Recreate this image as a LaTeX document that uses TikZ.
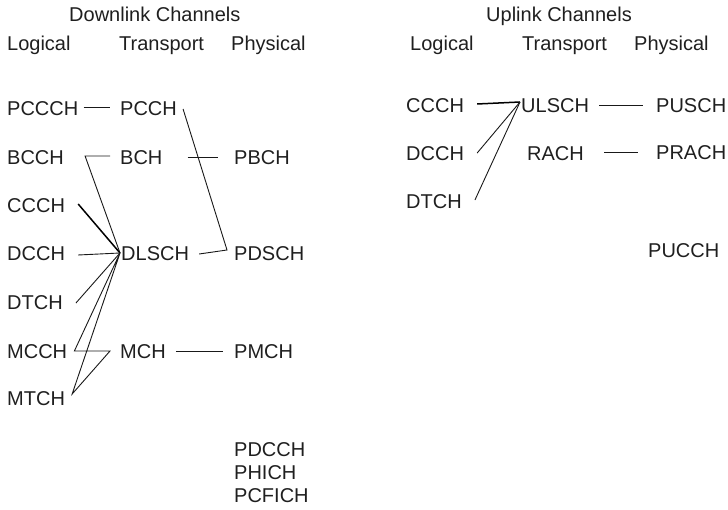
\documentclass[tikz,border=0pt]{standalone}
\usepackage{fontspec}
\setmainfont{Liberation Sans}
\usetikzlibrary{calc}
\begin{document}
\begin{tikzpicture}[x=1pt,y=-1pt,
  ch/.style={inner sep=0pt, anchor=west, text height=14.3pt, text depth=0pt,
    font=\fontsize{20}{24}\selectfont, text=black!88},
  link/.style={draw=black!90, line width=0.9pt},
  thick link/.style={draw=black, line width=1.5pt}]
\useasboundingbox (0,0) rectangle (728,510);
% headers
\node[ch] (dlh) at (69,14.2) {Downlink Channels};
\node[ch] (dll) at (7,43.5) {Logical};
\node[ch] (dlt) at (119,43.5) {Transport};
\node[ch] (dlp) at (231,43.5) {Physical};
\node[ch] (ulh) at (486,14.2) {Uplink Channels};
\node[ch] (ull) at (410,43.5) {Logical};
\node[ch] (ult) at (522,43.5) {Transport};
\node[ch] (ulp) at (634,43.5) {Physical};
% downlink nodes
\node[ch] (PCCCH) at (7,108) {PCCCH};
\node[ch] (PCCH) at (120,108) {PCCH};
\node[ch] (BCCH) at (7,157) {BCCH};
\node[ch] (BCH) at (120,157) {BCH};
\node[ch] (PBCH) at (234,157) {PBCH};
\node[ch] (CCCH) at (7,205) {CCCH};
\node[ch] (DCCH) at (7,253) {DCCH};
\node[ch] (DLSCH) at (121,253) {DLSCH};
\node[ch] (PDSCH) at (234,253) {PDSCH};
\node[ch] (DTCH) at (7,302) {DTCH};
\node[ch] (MCCH) at (7,351) {MCCH};
\node[ch] (MCH) at (120,351) {MCH};
\node[ch] (PMCH) at (234,351) {PMCH};
\node[ch] (MTCH) at (7,398) {MTCH};
\node[ch] (PDCCH) at (234,449) {PDCCH};
\node[ch] (PHICH) at (234,472) {PHICH};
\node[ch] (PCFICH) at (234,495) {PCFICH};
% uplink nodes
\node[ch] (uCCCH) at (406,105) {CCCH};
\node[ch] (ULSCH) at (521,105) {ULSCH};
\node[ch] (PUSCH) at (656,105) {PUSCH};
\node[ch] (uDCCH) at (406,153) {DCCH};
\node[ch] (RACH) at (527,153) {RACH};
\node[ch] (PRACH) at (656,152) {PRACH};
\node[ch] (uDTCH) at (406,201) {DTCH};
\node[ch] (PUCCH) at (648,250) {PUCCH};
% junction points
\coordinate (jDL) at ($(DLSCH.west)+(-1,0)$);
\coordinate (jB) at ($(BCCH.east)+(21,-1)$);
\coordinate (jPD) at ($(PDSCH.west)+(-7,-3)$);
\coordinate (jM) at ($(MCH.west)+(-10,0)$);
\coordinate (jMC) at ($(MCCH.east)+(7,0)$);
\coordinate (jMT) at ($(MTCH.east)+(7,-4)$);
\coordinate (jUL) at ($(ULSCH.west)+(-1,-3)$);
% downlink connectors
\draw[link] ($(PCCCH.east)+(5,-0.5)$) -- ($(PCCH.west)+(-10,-0.5)$);
\draw[link] ($(BCH.west)+(-10,-1)$) -- (jB) -- (jDL);
\draw[link] ($(BCH.east)+(25,0)$) -- ($(PBCH.west)+(-16,0)$);
\draw[link] ($(PCCH.east)+(6,1)$) -- (jPD) -- ($(DLSCH.east)+(10,1)$);
\draw[thick link] ($(CCCH.east)+(13,-1)$) -- (jDL);
\draw[link] ($(DCCH.east)+(13,2)$) -- (jDL);
\draw[link] ($(DTCH.east)+(13,1)$) -- (jDL);
\draw[link] (jDL) -- (jMC) -- (jM) -- (jMT) -- (jDL);
\draw[link] ($(MCH.east)+(10,0)$) -- ($(PMCH.west)+(-11,0)$);
% uplink connectors
\draw[thick link] ($(uCCCH.east)+(13,-1)$) -- (jUL);
\draw[link] ($(uDCCH.east)+(13,0)$) -- (jUL);
\draw[link] ($(uDTCH.east)+(13,-1)$) -- (jUL);
\draw[link] ($(ULSCH.east)+(10,0)$) -- ($(PUSCH.west)+(-13,0)$);
\draw[link] ($(RACH.east)+(20,-1)$) -- ($(PRACH.west)+(-18,0)$);
\end{tikzpicture}
\end{document}
